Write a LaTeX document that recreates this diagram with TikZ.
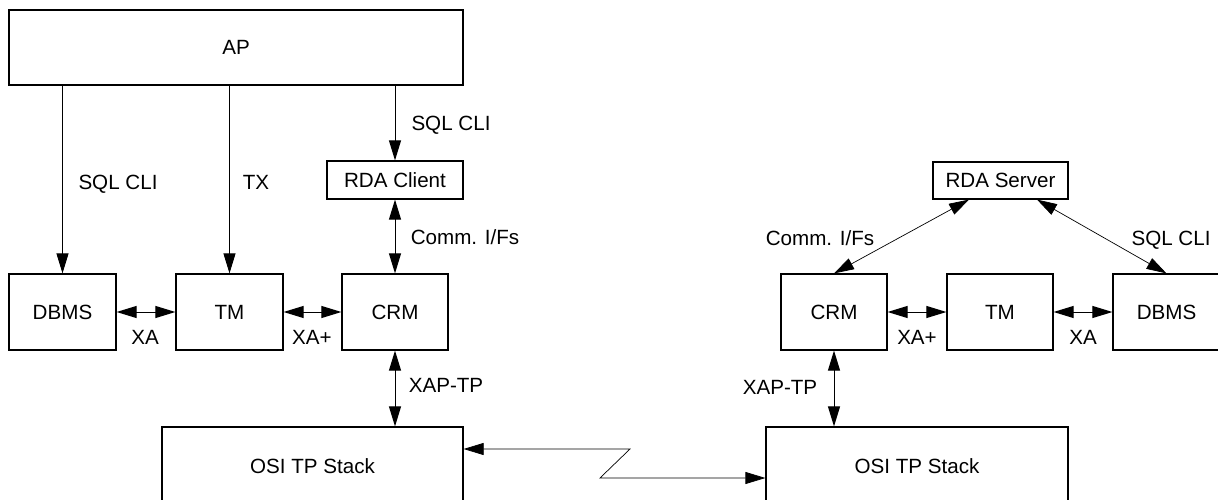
\documentclass[tikz,border=0pt]{standalone}
\usepackage{fontspec}
\setmainfont{Liberation Sans}
\usetikzlibrary{arrows.meta,calc}
\begin{document}
\begin{tikzpicture}[x=1pt,y=-1pt,
 txt/.style={inner sep=0pt, font=\fontsize{20.6}{24}\selectfont, text height=14.8pt, text depth=0pt},
 box/.style={txt, draw, line width=1.2pt},
 lbl/.style={txt},
 tip/.tip={Triangle[length=20pt,width=12pt]},
 con/.style={line width=1pt, -tip},
 dcon/.style={line width=1pt, tip-tip},
 fine/.style={line width=0.7pt, tip-tip}
]
\useasboundingbox (0,0) rectangle (1218,500);
\clip (0,0) rectangle (1218,500);
% nodes
\node[box, minimum width=454pt, minimum height=75pt] (ap) at (236,47.5) {AP};
\node[box, minimum width=136pt, minimum height=38pt] (rdac) at (395,180) {RDA Client};
\node[box, minimum width=107pt, minimum height=76pt] (dbmsL) at (62.5,312) {DBMS};
\node[box, minimum width=107pt, minimum height=76pt] (tmL) at (229.5,312) {TM};
\node[box, minimum width=106pt, minimum height=76pt] (crmL) at (395,312) {CRM};
\node[box, minimum width=301pt, minimum height=78pt] (osiL) at (312.5,466) {OSI TP Stack};
\node[box, minimum width=135pt, minimum height=37pt] (rdas) at (1000.5,180.5) {RDA Server};
\node[box, minimum width=106pt, minimum height=76pt] (crmR) at (834,312) {CRM};
\node[box, minimum width=106pt, minimum height=76pt] (tmR) at (1000,312) {TM};
\node[box, minimum width=107pt, minimum height=76pt] (dbmsR) at (1166.5,312) {DBMS};
\node[box, minimum width=302pt, minimum height=78pt] (osiR) at (917,466) {OSI TP Stack};
% connectors left
\draw[con] (ap.south -| dbmsL.north) -- (dbmsL.north);
\draw[con] (ap.south -| tmL.north) -- (tmL.north);
\draw[con] (ap.south -| rdac.north) -- (rdac.north);
\draw[dcon] (rdac.south) -- (crmL.north);
\draw[dcon] (dbmsL) -- (tmL);
\draw[dcon] (tmL) -- (crmL);
\draw[dcon] (crmL.south) -- (osiL.north -| crmL.south);
% connectors right
\draw[fine] ($(rdas.south)+(-31.5,0)$) -- (crmR.north);
\draw[fine] ($(rdas.south)+(36.5,0)$) -- (dbmsR.north);
\draw[dcon] (crmR) -- (tmR);
\draw[dcon] (tmR) -- (dbmsR);
\draw[dcon] (crmR.south) -- (osiR.north -| crmR.south);
% link between stacks
\coordinate (z1) at (630,449);
\coordinate (z2) at (600,478);
\draw[fine] (z1 -| osiL.east) -- (z1) -- (z2) -- (z2 -| osiR.west);
% labels
\node[lbl] (l1) at (118,182) {SQL CLI};
\node[lbl] (l2) at (256,182) {TX};
\node[lbl] (l3) at (451,123) {SQL CLI};
\node[lbl] (l4) at (465,237) {Comm. I/Fs};
\node[lbl] (l5) at (145,337) {XA};
\node[lbl] (l6) at (312,337) {XA+};
\node[lbl] (l7) at (446,385) {XAP-TP};
\node[lbl] (r1) at (820,238) {Comm. I/Fs};
\node[lbl] (r2) at (1171,238) {SQL CLI};
\node[lbl] (r3) at (917,337) {XA+};
\node[lbl] (r4) at (1083,337) {XA};
\node[lbl] (r5) at (780,387) {XAP-TP};
\end{tikzpicture}
\end{document}
